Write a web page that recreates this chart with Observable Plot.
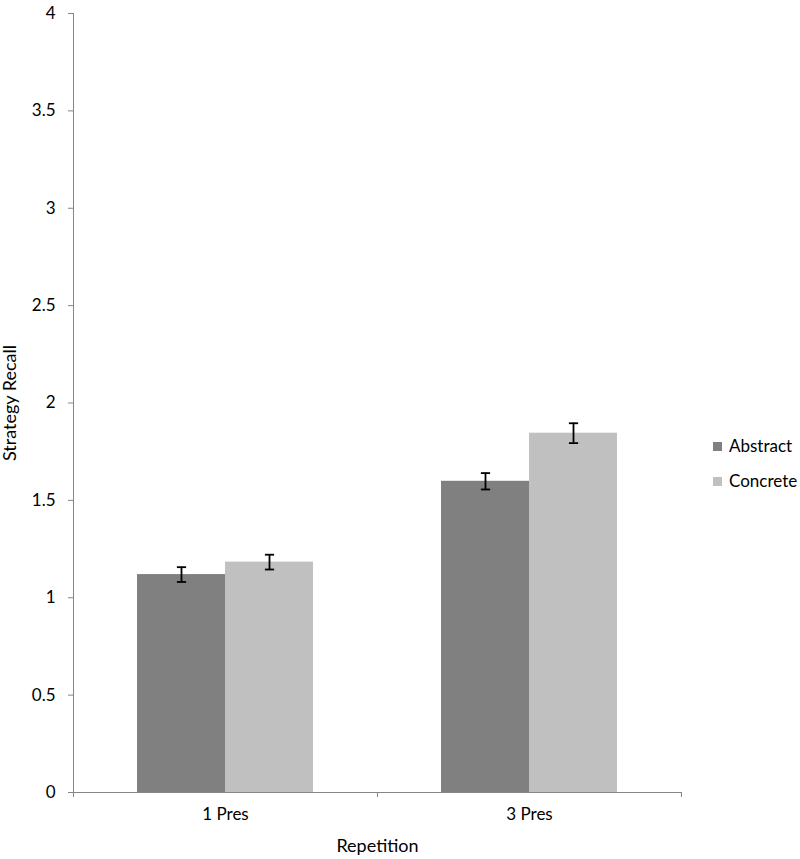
<!DOCTYPE html>
<html>
<head>
<meta charset="utf-8">
<script src="https://cdn.jsdelivr.net/npm/d3@7"></script>
<script src="https://cdn.jsdelivr.net/npm/@observablehq/plot@0.6"></script>
<style>
  html, body { margin: 0; padding: 0; background: #fff; }
  #wrap { position: relative; width: 800px; height: 859px; font-family: Lato, "Open Sans", sans-serif; }
  .legend { position: absolute; left: 713px; font-size: 17px; line-height: 20px; color: #000; display: flex; align-items: center; }
  .legend span.sw { display: inline-block; width: 9px; height: 9px; margin-right: 7px; }
</style>
</head>
<body>
<div id="wrap"></div>
<script>
const categories = ["1 Pres", "3 Pres"];
const seriesNames = ["Abstract", "Concrete"];
const abstractValues = [1.119, 1.598];
const concreteValues = [1.183, 1.845];
const abstractErrors = [0.038, 0.042];
const concreteErrors = [0.038, 0.051];
const seriesColors = ["#808080", "#c0c0c0"];
const yTicks = [0, 0.5, 1, 1.5, 2, 2.5, 3, 3.5, 4];
const xTitle = "Repetition";
const yTitle = "Strategy Recall";

const barWidth = 0.2895; // width of one bar in category units
const rows = [];
categories.forEach((c, i) => {
  [abstractValues, concreteValues].forEach((vals, s) => {
    const errs = s === 0 ? abstractErrors : concreteErrors;
    const center = i + 0.5;
    const x1 = s === 0 ? center - barWidth : center;
    rows.push({category: c, series: seriesNames[s], value: vals[i], err: errs[i],
               x1, x2: x1 + barWidth, xm: x1 + barWidth / 2});
  });
});

const capSymbol = {
  draw(context, size) {
    const w = Math.sqrt(size);
    context.moveTo(-w, 0);
    context.lineTo(w, 0);
  }
};

const chart = Plot.plot({
  width: 800,
  height: 859,
  marginLeft: 73,
  marginRight: 119,
  marginTop: 13,
  marginBottom: 67,
  style: {fontFamily: "Lato, 'Open Sans', sans-serif", fontSize: "17px", color: "#000", background: "#fff", overflow: "visible"},
  x: {domain: [0, categories.length], axis: null},
  y: {domain: [0, 4], axis: null},
  color: {domain: seriesNames, range: seriesColors},
  marks: [
    Plot.rectY(rows, {x1: "x1", x2: "x2", y1: 0, y2: "value", fill: "series", inset: 0}),
    Plot.ruleX(rows, {x: "xm", y1: d => d.value - d.err, y2: d => d.value + d.err, stroke: "#000", strokeWidth: 1.8}),
    Plot.dot(rows, {x: "xm", y: d => d.value - d.err, symbol: capSymbol, r: 2.6, stroke: "#000", strokeWidth: 1.8}),
    Plot.dot(rows, {x: "xm", y: d => d.value + d.err, symbol: capSymbol, r: 2.6, stroke: "#000", strokeWidth: 1.8}),
    // y axis
    Plot.axisY({ticks: yTicks, tickSize: 5, tickPadding: 13, stroke: "#868686", fontSize: 17,
                tickFormat: d => String(d), label: null}),
    Plot.ruleX([0], {stroke: "#868686"}),
    Plot.text([yTitle], {frameAnchor: "left", rotate: -90, dx: -63, lineAnchor: "middle", textAnchor: "middle", fontSize: 18, fill: "#000"}),
    // x axis
    Plot.ruleY([0], {stroke: "#868686"}),
    Plot.axisX({ticks: d3.range(categories.length + 1), tickSize: 5, tickFormat: () => "", stroke: "#868686", label: null}),
    Plot.axisX({ticks: categories.map((c, i) => i + 0.5), tickSize: 0, tickPadding: 15,
                tickFormat: v => categories[Math.floor(v)], fontSize: 17, label: null}),
    Plot.text([xTitle], {frameAnchor: "bottom", dy: 54, lineAnchor: "middle", textAnchor: "middle", fontSize: 18, fill: "#000"})
  ]
});

const wrap = document.getElementById("wrap");
wrap.appendChild(chart);
seriesNames.forEach((name, i) => {
  const div = document.createElement("div");
  div.className = "legend";
  div.style.top = (436 + i * 35) + "px";
  div.innerHTML = `<span class="sw" style="background:${seriesColors[i]}"></span>${name}`;
  wrap.appendChild(div);
});
</script>
</body>
</html>
